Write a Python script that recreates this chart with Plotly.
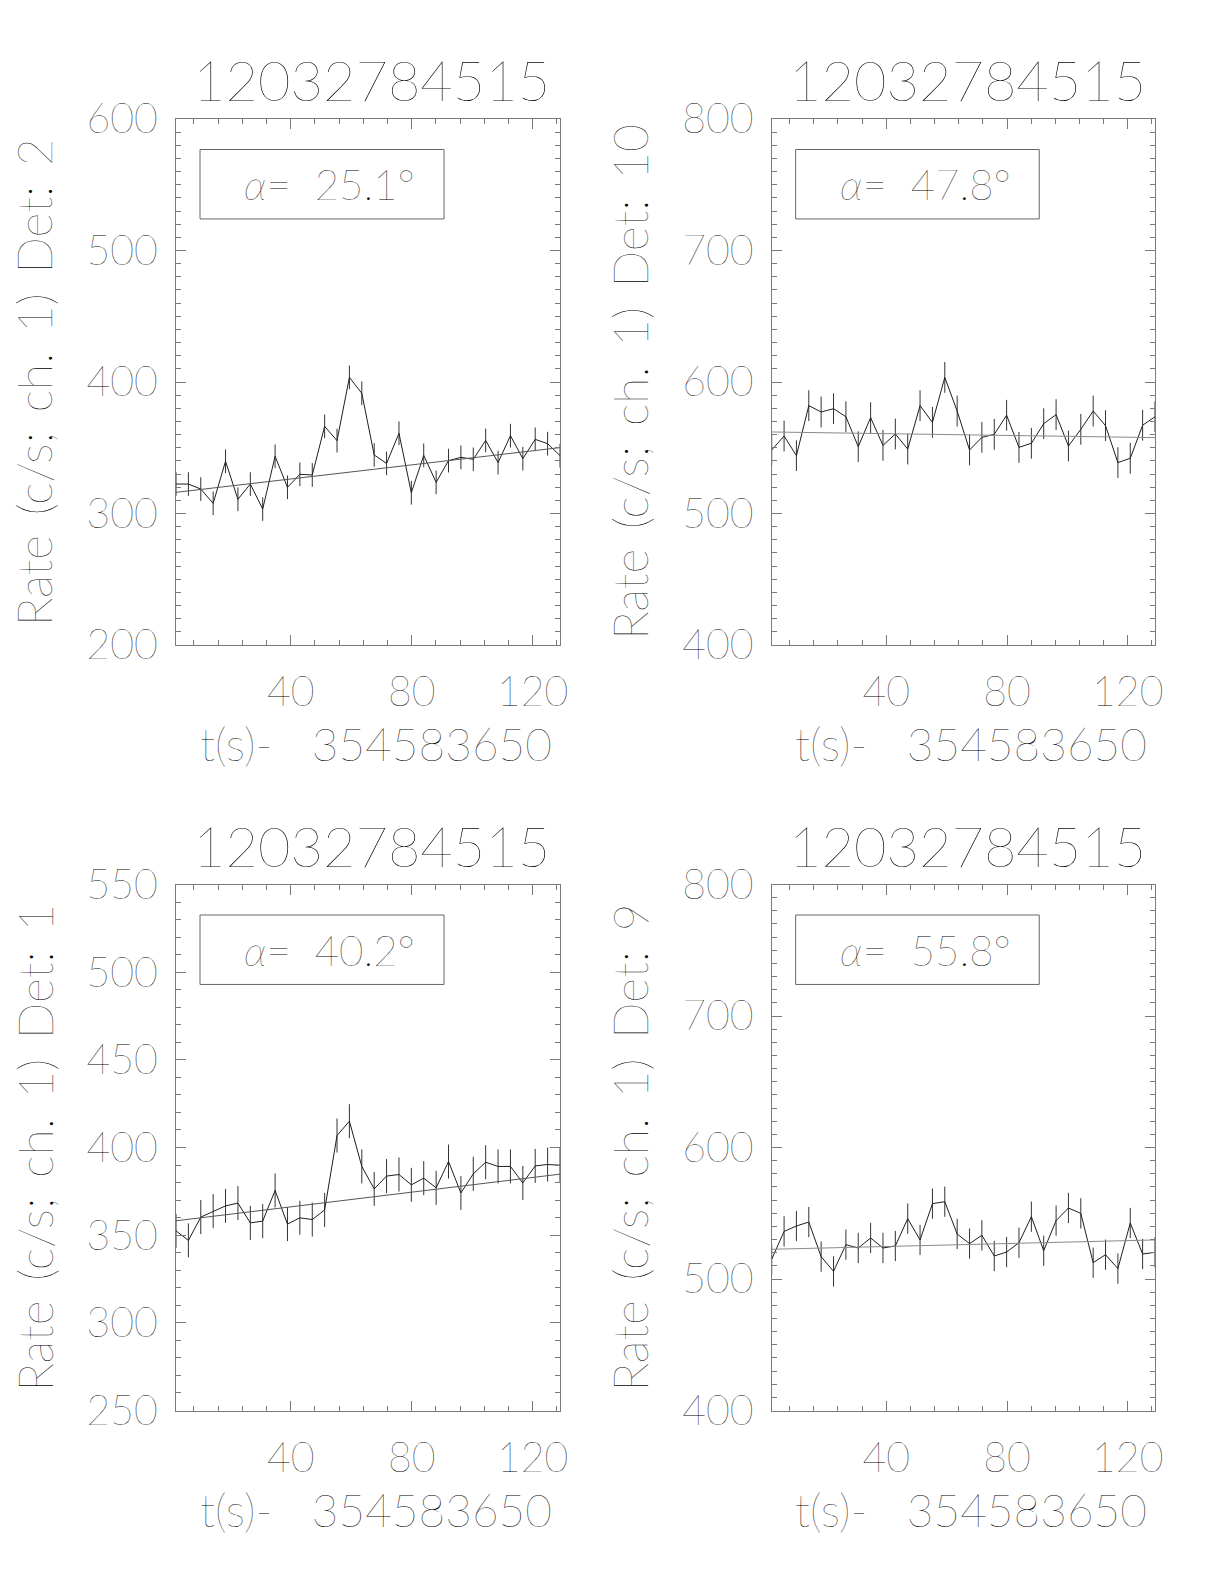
import plotly.graph_objects as go

# ---------------- data ----------------
title_text = "12032784515"
x_title = "t(s)- 354583650"

t = [2.05, 6.15, 10.24, 14.34, 18.43, 22.53, 26.63, 30.72, 34.82, 38.91,
     43.01, 47.11, 51.20, 55.30, 59.39, 63.49, 67.59, 71.68, 75.78, 79.87,
     83.97, 88.07, 92.16, 96.26, 100.35, 104.45, 108.55, 112.64, 116.74,
     120.83, 124.93, 129.03]

rate_det2 = [322.4, 322.4, 318.6, 307.7, 339.7, 310.8, 322.4, 303.4, 343.5, 319.9,
             329.8, 329.3, 366.3, 355.4, 403.5, 391.4, 344.5, 338.1, 361.0, 315.8,
             344.2, 323.7, 340.2, 342.7, 341.2, 355.6, 338.7, 359.2, 341.7, 356.4,
             353.1, 344.0]
rate_det10 = [548.3, 558.9, 544.0, 582.0, 577.2, 579.7, 573.6, 550.8, 572.9, 551.8,
              560.5, 549.0, 582.0, 569.3, 603.5, 577.9, 548.3, 557.9, 560.2, 574.7,
              550.3, 553.4, 568.3, 575.2, 551.3, 564.0, 577.9, 566.8, 538.7, 542.0,
              567.1, 573.6]
rate_det1 = [352.5, 347.0, 360.3, 363.7, 366.7, 368.3, 357.0, 358.0, 375.5, 356.3,
             359.9, 358.9, 364.4, 406.8, 415.0, 389.2, 376.4, 383.7, 384.6, 378.7,
             382.5, 377.0, 392.0, 374.1, 385.0, 391.6, 389.2, 389.2, 379.8, 389.5,
             390.3, 389.9]
rate_det9 = [515.0, 536.2, 540.3, 543.3, 517.0, 505.8, 526.1, 523.6, 531.2, 523.6,
             525.1, 545.9, 529.7, 557.3, 558.8, 534.2, 526.9, 533.2, 517.5, 520.5,
             527.6, 547.4, 521.5, 544.4, 554.0, 549.9, 512.4, 518.5, 507.9, 542.6,
             519.0, 520.3]

# background fit (value at first and last time bin)
fit_det2 = [316.1, 350.1]
fit_det10 = [562.0, 557.7]
fit_det1 = [358.2, 384.8]
fit_det9 = [522.6, 529.7]

# typical error bar half-length per detector
err_det2 = 9.0
err_det10 = 11.7
err_det1 = 9.7
err_det9 = 11.5

det_labels = ["2", "10", "1", "9"]
alpha_labels = ["25.1", "47.8", "40.2", "55.8"]
y_ranges = [[200, 600], [400, 800], [250, 550], [400, 800]]
y_dticks = [100, 100, 50, 100]

# ---------------- layout ----------------
W, H = 1224, 1584
FONT = "Lato, Roboto, Liberation Sans, sans-serif"
WGT = 200
TXT = "#000000"
AX = "#7a7a7a"
NB = "\u00a0"
THIN = "\u2009"

# pixel boxes of each plot area (left, right, top, bottom)
boxes = [(176, 560, 119, 645), (771.7, 1155, 119, 645),
         (176, 560, 884.5, 1410.5), (771.7, 1155, 884.5, 1410.5)]

rates = [rate_det2, rate_det10, rate_det1, rate_det9]
fits = [fit_det2, fit_det10, fit_det1, fit_det9]
errs = [err_det2, err_det10, err_det1, err_det9]

fig = go.Figure()
annotations = []
shapes = []

for i in range(4):
    L, R, T, B = boxes[i]
    xa = "x" if i == 0 else f"x{i+1}"
    ya = "y" if i == 0 else f"y{i+1}"
    xkey = "xaxis" if i == 0 else f"xaxis{i+1}"
    ykey = "yaxis" if i == 0 else f"yaxis{i+1}"

    fig.add_trace(go.Scatter(
        x=t, y=rates[i], mode="lines", xaxis=xa, yaxis=ya,
        line=dict(color="#1e1e1e", width=1),
        error_y=dict(type="constant", value=errs[i], width=0,
                     thickness=1, color="#333333"),
        showlegend=False, hoverinfo="skip"))
    fig.add_trace(go.Scatter(
        x=[t[0], t[-1]], y=fits[i], mode="lines", xaxis=xa, yaxis=ya,
        line=dict(color="#555555" if i in (0, 2) else "#8a8a8a", width=1),
        showlegend=False, hoverinfo="skip"))

    fig.layout[xkey] = dict(
        domain=[L / W, R / W], anchor=ya, range=[t[0], t[-1]],
        automargin=False,
        tickmode="array", tickvals=[40, 80, 120], ticks="inside",
        ticklen=10, tickcolor=AX, showline=True, linecolor=AX, linewidth=1,
        mirror="ticks", showgrid=False, zeroline=False,
        minor=dict(dtick=8, tick0=0, ticks="inside", ticklen=5,
                   tickcolor=AX, showgrid=False),
        tickfont=dict(family=FONT, size=41, color=TXT, weight=WGT),
        ticklabelstandoff=11)
    fig.layout[ykey] = dict(
        domain=[1 - B / H, 1 - T / H], anchor=xa, range=y_ranges[i],
        automargin=False,
        dtick=y_dticks[i], tick0=0, ticks="inside", ticklen=10,
        tickcolor=AX, showline=True, linecolor=AX, linewidth=1,
        mirror="ticks", showgrid=False, zeroline=False,
        minor=dict(dtick=10, tick0=0, ticks="inside", ticklen=5,
                   tickcolor=AX, showgrid=False),
        tickfont=dict(family=FONT, size=41, color=TXT, weight=WGT),
        ticklabelstandoff=9)

    cx = (L + R) / 2
    # panel title
    annotations.append(dict(
        text=title_text, x=(cx + 4) / W, y=1 - (T - 39) / H, xref="paper",
        yref="paper", showarrow=False, xanchor="center", yanchor="middle",
        font=dict(family=FONT, size=56, color=TXT, weight=WGT)))
    # x title
    annotations.append(dict(
        text=x_title.replace(" ", NB * 3), x=(R - 6) / W,
        y=1 - (B + 98.5) / H, xref="paper",
        yref="paper", showarrow=False, xanchor="right", yanchor="middle",
        font=dict(family=FONT, size=46, color=TXT, weight=WGT)))
    # y title
    ytxt = f"Rate (c/s; ch. 1) Det: {det_labels[i]}".replace(" ", NB + THIN)
    annotations.append(dict(
        text=ytxt, x=(L - 142) / W,
        y=1 - (T + B) / 2 / H, xref="paper", yref="paper", showarrow=False,
        textangle=-90, xanchor="center", yanchor="middle",
        font=dict(family=FONT, size=48, color=TXT, weight=WGT)))
    # alpha box
    shapes.append(dict(
        type="rect", xref=f"{xa} domain", yref=f"{ya} domain",
        x0=0.0625, x1=0.698, y0=0.81, y1=0.942,
        line=dict(color="#666666", width=1)))
    annotations.append(dict(
        text=f"<i>α</i>={NB}{NB}{alpha_labels[i]}°", xref=f"{xa} domain",
        yref=f"{ya} domain", x=0.40, y=0.876, showarrow=False,
        xanchor="center", yanchor="middle",
        font=dict(family=FONT, size=42, color=TXT, weight=WGT)))

fig.update_layout(
    width=W, height=H, autosize=False,
    margin=dict(l=0, r=0, t=0, b=0, pad=0),
    paper_bgcolor="white", plot_bgcolor="white",
    annotations=annotations, shapes=shapes)

fig.write_html("out.html", config={"displayModeBar": False},
               post_script="document.body.style.margin='0';")
